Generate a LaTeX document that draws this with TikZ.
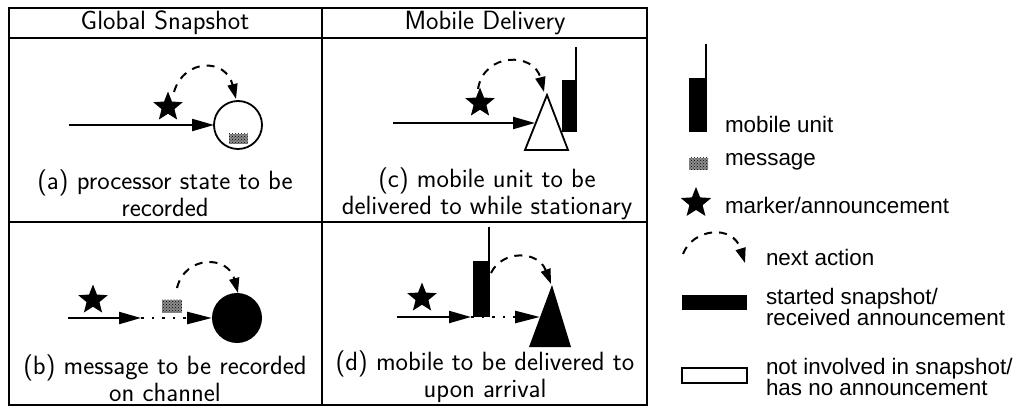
\documentclass[tikz,border=0pt]{standalone}
\usepackage{fontspec}
\newfontfamily\legfont{Liberation Sans}
\usetikzlibrary{shapes.geometric,arrows.meta,patterns}
\begin{document}
\begin{tikzpicture}[x=1pt,y=-1pt,
  every node/.style={inner sep=0pt,outer sep=0pt},
  tabtext/.style={font=\sffamily\fontsize{26.4}{27}\selectfont,align=center},
  legtext/.style={font=\legfont\fontsize{22.4}{20}\selectfont,anchor=west,align=left},
  border/.style={line width=1.5pt},
  mstar/.style={star,star points=5,star point ratio=2.3,fill=black,minimum size=31pt},
  msgbox/.style={rectangle,preaction={fill=black!45},pattern=crosshatch dots,pattern color=black},
  solidarr/.style={line width=2.2pt,-{Triangle[length=22pt,width=12pt]}},
  dotarr/.style={line width=2.6pt,dash pattern=on 2.6pt off 8pt,-{Triangle[length=25pt,width=12pt]}},
  nextact/.style={line width=2pt,dash pattern=on 8pt off 7pt,-{Triangle[length=15pt,width=10pt]}},
  unitbar/.style={fill=black},
  antenna/.style={line width=2pt},
]
\useasboundingbox (0,0) rectangle (1031,417);
\fill[white] (0,0) rectangle (1031,417);

% table frame
\draw[border] (9,8) rectangle (647,405);
\draw[border] (9,38) -- (647,38);
\draw[border] (9,222) -- (647,222);
\draw[border] (322,8) -- (322,405);
\node[tabtext] (h1) at (165,23) {Global Snapshot};
\node[tabtext] (h2) at (485,23) {Mobile Delivery};

% ---------- (a)
\coordinate (a0) at (69,125);
\node[circle,draw,line width=1.8pt,minimum size=48pt] (pa) at (238,125) {};
\node[msgbox,minimum width=19pt,minimum height=10pt] (amsg) at (238,139) {};
\node[mstar] (astar) at (168,107) {};
\draw[solidarr] (a0) -- (pa);
\coordinate (as) at (174,92);
\coordinate (ae) at (236,99);
\draw[nextact] (as) .. controls (184,58) and (226,58) .. (ae);
\node[tabtext] (capa) at (165,193) {(a) processor state to be\\recorded};

% ---------- (b)
\coordinate (b0) at (68,318);
\coordinate (b1) at (141,318);
\node[circle,fill=black,minimum size=50pt] (pb) at (237,318) {};
\node[msgbox,minimum width=20pt,minimum height=13pt] (bmsg) at (172,306) {};
\node[mstar] (bstar) at (93,300) {};
\draw[solidarr] (b0) -- (b1);
\draw[dotarr] (b1) -- (pb);
\coordinate (bs) at (177,288);
\coordinate (be) at (238,293);
\draw[nextact] (bs) .. controls (185,255) and (228,255) .. (be);
\node[tabtext] (capb) at (165,378) {(b) message to be recorded\\on channel};

% ---------- (c)
\coordinate (c0) at (393,123);
\coordinate (cap) at (547,95);
\coordinate (cbl) at (525,150);
\coordinate (cbr) at (568,150);
\coordinate (cin) at (535,123);
\draw[line width=1.8pt,fill=white,line join=miter] (cap) -- (cbl) -- (cbr) -- cycle;
\node[unitbar,minimum width=15pt,minimum height=52pt] (cbar) at (569.5,106) {};
\coordinate (cant) at (576,47);
\draw[antenna] (cant) -- (cbar.north east -| cant);
\node[mstar] (cstar) at (480,103) {};
\draw[solidarr] (c0) -- (cin);
\coordinate (cs) at (478,89);
\coordinate (ce) at (544,92);
\draw[nextact] (cs) .. controls (484,52) and (534,52) .. (ce);
\node[tabtext] (capc) at (487,194) {(c) mobile unit to be\\delivered to while stationary};

% ---------- (d)
\coordinate (d0) at (397,317);
\coordinate (d1) at (471,317);
\coordinate (dap) at (552,285);
\coordinate (dbl) at (529,347);
\coordinate (dbr) at (571,347);
\coordinate (din) at (540,317);
\fill (dap) -- (dbl) -- (dbr) -- cycle;
\node[unitbar,minimum width=17pt,minimum height=56pt] (dbar) at (481.5,289) {};
\coordinate (dant) at (489,227);
\draw[antenna] (dant) -- (dbar.north east -| dant);
\node[mstar] (dstar) at (422,298) {};
\draw[solidarr] (d0) -- (d1);
\draw[dotarr] (d1) -- (din);
\coordinate (ds) at (491,273);
\coordinate (de) at (551,284);
\draw[nextact] (ds) .. controls (502,250) and (538,250) .. (de);
\node[tabtext] (capd) at (485,377) {(d) mobile to be delivered to\\upon arrival};

% ---------- legend
\node[unitbar,minimum width=18pt,minimum height=54pt] (lbar) at (698,105) {};
\coordinate (lant) at (706,44);
\draw[antenna] (lant) -- (lbar.north east -| lant);
\node[legtext] (lt1) at (725,124) {mobile unit};

\node[msgbox,minimum width=19pt,minimum height=12pt] (lmsg) at (698.5,164) {};
\node[legtext] (lt2) at (725,162) {message};

\node[mstar,minimum size=32pt] (lstar) at (696,203) {};
\node[legtext] (lt3) at (725,205) {marker/announcement};

\coordinate (ls) at (683,254);
\coordinate (le) at (745,263);
\draw[nextact] (ls) .. controls (693,228) and (733,224) .. (le);
\node[legtext] (lt4) at (766,257) {next action};

\node[fill=black,minimum width=65pt,minimum height=15pt] (lblack) at (714.5,302.5) {};
\node[legtext] (lt5) at (766,307) {started snapshot/\\received announcement};

\node[draw,line width=1.3pt,fill=white,minimum width=65pt,minimum height=15pt] (lwhite) at (714.5,375.5) {};
\node[legtext] (lt6) at (766,377) {not involved in snapshot/\\has no announcement};
\end{tikzpicture}
\end{document}
